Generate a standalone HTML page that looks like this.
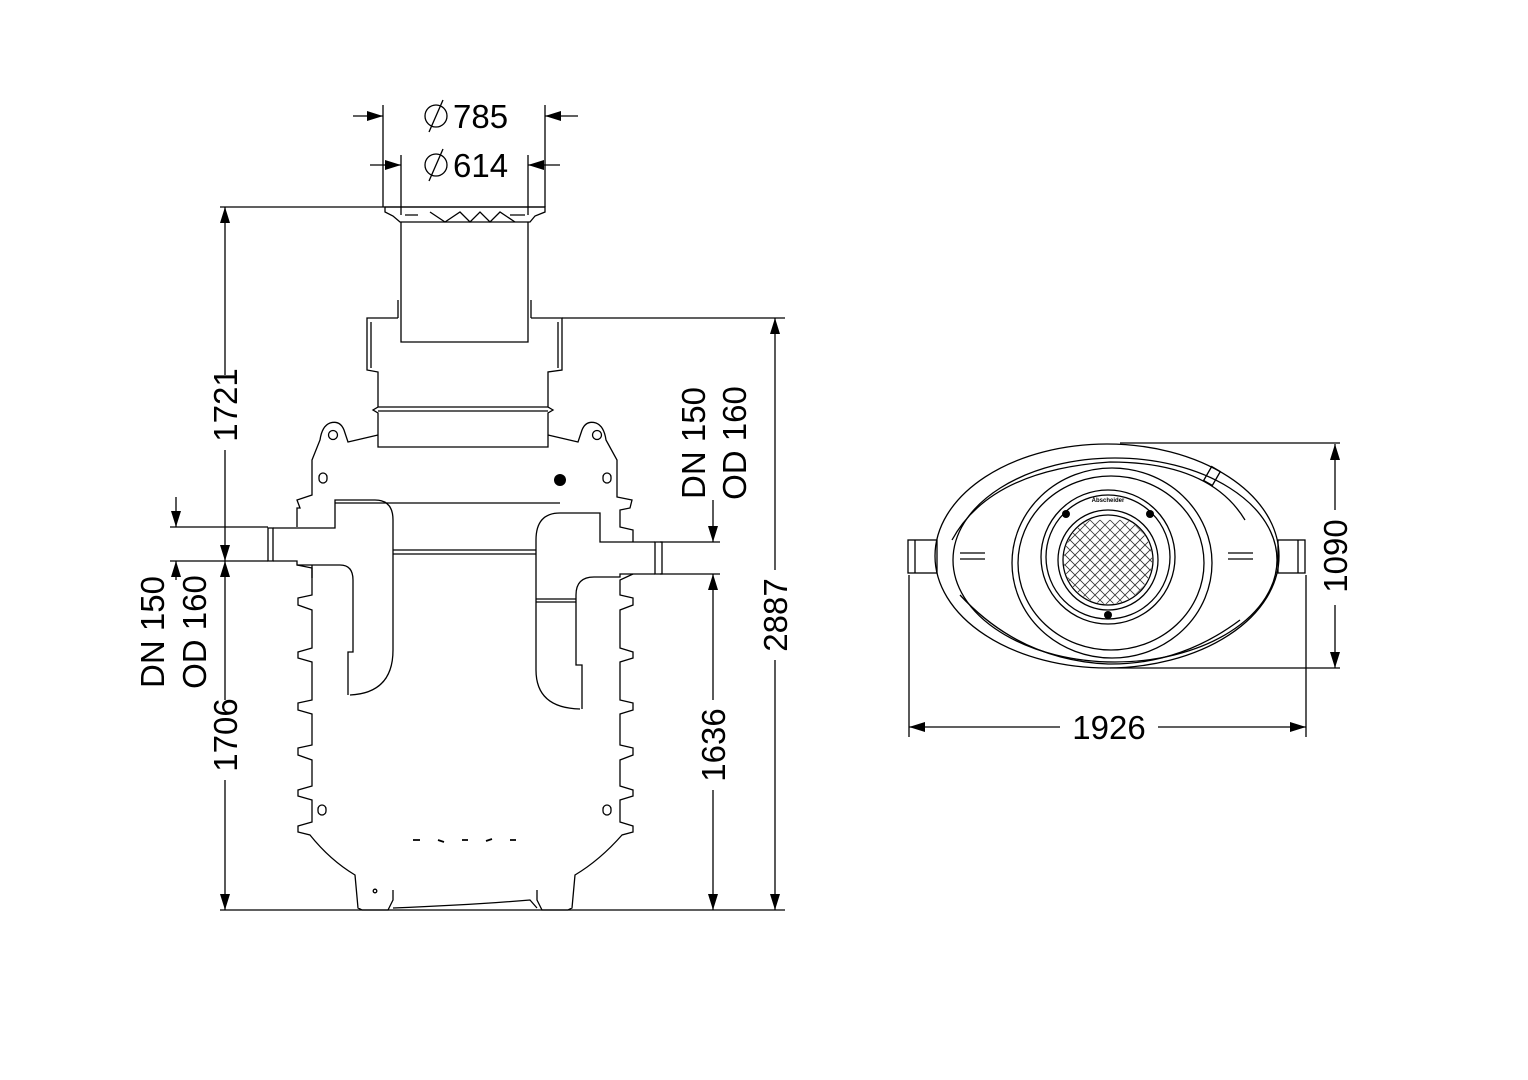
<!DOCTYPE html>
<html><head><meta charset="utf-8"><style>
html,body{margin:0;padding:0;background:#fff}
svg{display:block}
text{font-family:"Liberation Sans",Arial,sans-serif;fill:#000}
</style></head><body>
<svg width="1528" height="1080" viewBox="0 0 1528 1080" xmlns="http://www.w3.org/2000/svg">
<defs>
<marker id="a" viewBox="0 0 16 10" refX="16" refY="5" markerWidth="16" markerHeight="10" markerUnits="userSpaceOnUse" orient="auto"><path d="M0,0 L16,5 L0,10 Z" fill="#000"/></marker>
</defs>
<g fill="none" stroke="#000" stroke-width="1.3">
<!-- top dims -->
<line x1="383" y1="105" x2="383" y2="207"/><line x1="545" y1="105" x2="545" y2="207"/>
<line x1="401" y1="155" x2="401" y2="215"/><line x1="528" y1="155" x2="528" y2="215"/>
<line x1="353" y1="116" x2="383" y2="116" marker-end="url(#a)"/>
<line x1="578" y1="116" x2="545" y2="116" marker-end="url(#a)"/>
<line x1="370" y1="165" x2="401" y2="165" marker-end="url(#a)"/>
<line x1="560" y1="165" x2="528" y2="165" marker-end="url(#a)"/>
<circle cx="436" cy="116" r="11"/><line x1="429" y1="132" x2="443" y2="100"/>
<circle cx="436" cy="165" r="11"/><line x1="429" y1="181" x2="443" y2="149"/>
<!-- extension lines -->
<line x1="220" y1="207" x2="545" y2="207"/>
<line x1="562" y1="318" x2="785" y2="318"/>
<line x1="220" y1="910" x2="785" y2="910"/>
<line x1="170" y1="527" x2="268" y2="527"/>
<line x1="170" y1="561" x2="268" y2="561"/>
<line x1="660" y1="542" x2="720" y2="542"/>
<line x1="660" y1="574" x2="720" y2="574"/>
<!-- left dims -->
<line x1="225" y1="375" x2="225" y2="207" marker-end="url(#a)"/>
<line x1="225" y1="450" x2="225" y2="561" marker-end="url(#a)"/>
<line x1="225" y1="700" x2="225" y2="561" marker-end="url(#a)"/>
<line x1="225" y1="780" x2="225" y2="910" marker-end="url(#a)"/>
<line x1="176" y1="497" x2="176" y2="527" marker-end="url(#a)"/>
<line x1="176" y1="580" x2="176" y2="561" marker-end="url(#a)"/>
<!-- right dims -->
<line x1="713" y1="500" x2="713" y2="542" marker-end="url(#a)"/>
<line x1="713" y1="700" x2="713" y2="574" marker-end="url(#a)"/>
<line x1="713" y1="790" x2="713" y2="910" marker-end="url(#a)"/>
<line x1="775" y1="570" x2="775" y2="318" marker-end="url(#a)"/>
<line x1="775" y1="660" x2="775" y2="910" marker-end="url(#a)"/>
<!-- cover rim -->
<path d="M385,207 L545,207 L545,212 L535,216 L530,222 L400,222 L393,216 L385,212 Z"/>
<path d="M405,215 L418,215 M510,215 L525,215 M430,212 L445,222 L460,212 L470,222 L480,212 L490,222 L500,212 L515,222"/>
<!-- shaft -->
<path d="M401,222 L401,342 L528,342 L528,222"/>
<path d="M398,300 L398,318 M531,300 L531,318"/>
<!-- adapter -->
<path d="M398,318 L367,318 L367,370 L378,372 L378,407 L373,410 L378,413 L378,447 L548,447 L548,413 L553,410 L548,407 L548,372 L562,370 L562,318 L531,318"/>
<path d="M371,322 L371,368 M558,322 L558,368"/>
<line x1="378" y1="407" x2="548" y2="407"/><line x1="378" y1="411" x2="548" y2="411"/>
<!-- tank top -->
<path d="M378,435 L348,442 L344,430 Q340,420 330,423 Q322,426 320,440 L312,460 L312,495 L297,500 L300,508 L297,508 L297,527"/>
<path d="M548,435 L578,442 L582,430 Q586,420 596,423 Q604,426 606,440 L617,460 L617,497 L632,500 L630,508 L620,510 L620,527 L633,530 L633,542"/>
<circle cx="333" cy="435" r="4.5"/><circle cx="597" cy="435" r="4.5"/>
<rect x="319" y="473" width="8" height="10" rx="4"/><rect x="603" y="473" width="8" height="10" rx="4"/>
<line x1="335" y1="503" x2="560" y2="503"/>
<!-- left inlet pipe -->
<path d="M268,528 L268,561 L273,561 L273,528 Z"/>
<path d="M273,528 L335,528 L335,500 L375,500 Q393,500 393,520 L393,650 Q393,693 350,695"/>
<path d="M273,561 L297,561 L297,565 L340,565 Q353,565 353,580 L353,652 L348,652 L348,695"/>
<path d="M312,565 L312,578"/>
<!-- right outlet pipe -->
<path d="M662,542 L662,574 L655,574 L655,542 Z"/>
<path d="M655,542 L600,542 L600,513 L560,513 Q536,513 536,540 L536,670 Q536,708 580,709"/>
<path d="M655,574 L620,574 L620,577 L594,577 Q576,577 576,595 L576,665 L582,665 L582,709"/>
<line x1="536" y1="599" x2="576" y2="599"/><line x1="536" y1="602" x2="576" y2="602"/>
<line x1="393" y1="550" x2="536" y2="550"/><line x1="393" y1="554" x2="536" y2="554"/>
<!-- walls -->
<path d="M297,565 L312,568 L312,595 L298,598 L298,605 L312,610 L312,648 L298,652 L298,658 L312,662 L312,700 L298,703 L298,710 L312,714 L312,745 L298,748 L298,755 L312,760 L312,786 L298,790 L298,796 L312,800 L312,822 L298,826 L298,832 L310,835 Q330,860 355,875 L358,908 L362,910 L388,910 L393,900 L393,890"/>
<path d="M633,574 L620,580 L620,595 L633,598 L633,605 L620,610 L620,648 L633,652 L633,658 L620,662 L620,700 L633,703 L633,710 L620,714 L620,745 L633,748 L633,755 L620,760 L620,786 L633,790 L633,796 L620,800 L620,822 L633,826 L633,832 L622,835 Q600,860 575,875 L572,908 L568,910 L542,910 L537,900 L537,890"/>
<path d="M393,908 Q470,905 530,900 L537,908"/>
<rect x="318" y="805" width="8" height="10" rx="4"/><rect x="603" y="805" width="8" height="10" rx="4"/>
<circle cx="375" cy="891" r="1.8"/>
<path d="M413,840 L420,840 M438,840 L444,842 M462,840 L468,840 M486,841 L492,839 M510,840 L516,840" stroke-width="1.8"/>
<!-- plan view -->
<line x1="1120" y1="443" x2="1340" y2="443"/>
<line x1="1110" y1="668" x2="1340" y2="668"/>
<line x1="909" y1="575" x2="909" y2="737"/>
<line x1="1306" y1="575" x2="1306" y2="737"/>
<line x1="1060" y1="727" x2="909" y2="727" marker-end="url(#a)"/>
<line x1="1158" y1="727" x2="1306" y2="727" marker-end="url(#a)"/>
<line x1="1335" y1="510" x2="1335" y2="444" marker-end="url(#a)"/>
<line x1="1335" y1="605" x2="1335" y2="668" marker-end="url(#a)"/>
<ellipse cx="1107" cy="556" rx="172" ry="112"/>
<ellipse cx="1115" cy="560" rx="162" ry="102"/>
<path d="M952,540 Q990,470 1110,462 Q1210,462 1245,520"/>
<path d="M960,595 Q1020,660 1108,664 Q1180,665 1240,620"/>
<ellipse cx="1112" cy="563" rx="100" ry="95"/>
<ellipse cx="1111" cy="563" rx="93" ry="87"/>
<circle cx="1108" cy="557" r="67"/>
<circle cx="1108" cy="557" r="62"/>
<circle cx="1108" cy="560" r="50"/>
<circle cx="1108" cy="560" r="45"/>
<rect x="908" y="540" width="29" height="33"/><line x1="915" y1="540" x2="915" y2="573"/>
<rect x="1278" y="540" width="27" height="33"/><line x1="1298" y1="540" x2="1298" y2="573"/>
<rect x="1207" y="468" width="10" height="16" transform="rotate(30 1212 476)"/>
<path d="M960,553 L985,553 M960,559 L985,559 M1228,553 L1253,553 M1228,559 L1253,559"/>
</g>
<!-- grate pattern -->
<g stroke="#000" stroke-width="0.8" fill="none" opacity="0.8">
<clipPath id="c"><circle cx="1108" cy="560" r="44"/></clipPath>
<g clip-path="url(#c)">
<path d="M1050,520 L1170,640 M1050,530 L1160,640 M1050,540 L1150,640 M1050,550 L1140,640 M1050,560 L1130,640 M1050,570 L1120,640 M1050,580 L1110,640 M1050,590 L1100,640 M1050,600 L1090,640 M1060,520 L1170,630 M1070,520 L1170,620 M1080,520 L1170,610 M1090,520 L1170,600 M1100,520 L1170,590 M1110,520 L1170,580 M1120,520 L1170,570 M1130,520 L1170,560 M1140,520 L1170,550"/>
<path d="M1170,520 L1050,640 M1170,530 L1060,640 M1170,540 L1070,640 M1170,550 L1080,640 M1170,560 L1090,640 M1170,570 L1100,640 M1170,580 L1110,640 M1170,590 L1120,640 M1170,600 L1130,640 M1160,520 L1050,630 M1150,520 L1050,620 M1140,520 L1050,610 M1130,520 L1050,600 M1120,520 L1050,590 M1110,520 L1050,580 M1100,520 L1050,570 M1090,520 L1050,560 M1080,520 L1050,550"/>
</g>
</g>
<circle cx="1066" cy="514" r="4" fill="#000"/><circle cx="1150" cy="514" r="4" fill="#000"/><circle cx="1108" cy="615" r="4" fill="#000"/>
<circle cx="560" cy="480" r="6" fill="#000"/>
<text x="1108" y="502" font-size="6" text-anchor="middle" font-weight="bold">Abscheider</text>
<!-- text -->
<g font-size="33">
<text x="453" y="128">785</text>
<text x="453" y="177">614</text>
<text transform="translate(237,405) rotate(-90)" text-anchor="middle">1721</text>
<text transform="translate(237,735) rotate(-90)" text-anchor="middle">1706</text>
<text transform="translate(164,632) rotate(-90)" text-anchor="middle">DN 150</text>
<text transform="translate(206,632) rotate(-90)" text-anchor="middle">OD 160</text>
<text transform="translate(705,443) rotate(-90)" text-anchor="middle">DN 150</text>
<text transform="translate(746,443) rotate(-90)" text-anchor="middle">OD 160</text>
<text transform="translate(725,745) rotate(-90)" text-anchor="middle">1636</text>
<text transform="translate(787,615) rotate(-90)" text-anchor="middle">2887</text>
<text transform="translate(1347,556) rotate(-90)" text-anchor="middle">1090</text>
<text x="1109" y="739" text-anchor="middle">1926</text>
</g>
</svg>
</body></html>
